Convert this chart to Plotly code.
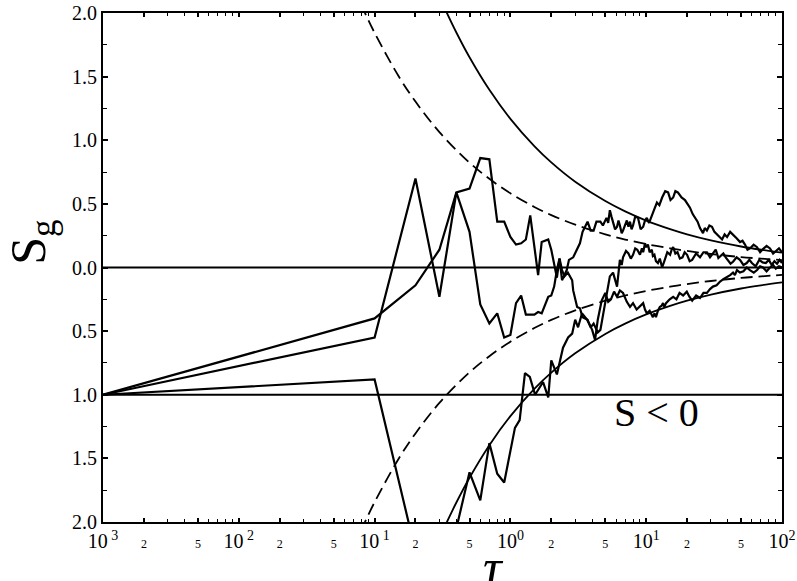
import plotly.graph_objects as go

# ---- data ----
tau_a = [0.001, 0.1, 0.2, 0.3, 0.4, 0.5, 0.6, 0.7, 0.8, 0.9, 1.0, 1.1, 1.2, 1.3, 1.4, 1.6, 1.7, 1.9, 2.0, 2.1,
         2.2, 2.3, 2.4, 2.6, 2.7, 2.9, 3.1, 3.25, 3.4, 3.7, 3.9, 4.1, 4.3, 4.6, 4.8,
         5.1, 5.25, 5.4, 5.55, 5.7, 5.9, 6.1, 6.25, 6.4, 6.6, 6.75, 7.0, 7.2, 7.4, 7.6, 7.8, 8.0, 8.3, 8.7, 9.1,
         9.5, 9.8, 10.1, 10.5, 11.0, 11.5, 12.0, 12.5, 13.1, 13.8, 14.5, 15.1, 15.8, 16.4, 17.1, 18.2, 19.3, 20.1,
         21.0, 22.0, 22.9, 23.9, 24.9, 25.5, 26.2, 27.0, 28.0, 29.2, 30.5, 31.8, 33.2, 34.7, 36.2, 37.8, 39.4,
         41.5, 43.6, 46.3, 49.1, 51.2, 53.4, 55.7, 58.1, 61.8, 65.5, 69.0, 72.4, 77.0, 81.6, 86.0, 90.3, 95.0, 100]
s_a = [-1.0, -0.40, -0.14, 0.14, 0.59, 0.62, 0.86, 0.85, 0.36, 0.36, 0.24, 0.18, 0.19, 0.22, 0.41, -0.06, 0.20,
       0.22, 0.14, 0.02, -0.08, 0.07, -0.10, -0.02, 0.06, 0.08, 0.14, 0.19, 0.28, 0.36, 0.29, 0.29, 0.36, 0.36,
       0.33,
       0.39, 0.35, 0.45, 0.40, 0.36, 0.30, 0.32, 0.37, 0.33, 0.27, 0.29, 0.34, 0.37, 0.32, 0.36, 0.30, 0.33, 0.40,
       0.39, 0.30, 0.32, 0.37, 0.39, 0.35, 0.40, 0.46, 0.51, 0.49, 0.55, 0.60, 0.59, 0.53, 0.55, 0.60, 0.59, 0.55,
       0.53, 0.50, 0.47, 0.42, 0.39, 0.36, 0.31, 0.29, 0.27, 0.31, 0.29, 0.33, 0.32, 0.28, 0.26, 0.24, 0.22,
       0.26, 0.24, 0.28, 0.26, 0.23, 0.20, 0.21, 0.18, 0.14, 0.15, 0.18, 0.16, 0.12, 0.145, 0.17, 0.15, 0.11,
       0.13, 0.15, 0.12]

tau_b = [0.001, 0.1, 0.2, 0.3, 0.4, 0.5, 0.6, 0.7, 0.8, 0.9, 1.0, 1.1, 1.2, 1.3, 1.5, 1.6, 1.7, 1.9, 2.0, 2.1,
         2.2, 2.3, 2.4, 2.5, 2.65, 2.85, 2.9, 3.1, 3.25, 3.4, 3.7, 3.9, 4.1, 4.4, 4.6, 5.1, 5.4, 5.7, 6.1,
         6.4, 6.6, 6.75, 7.1, 7.4, 7.7, 8.0, 8.3, 8.6, 9.0, 9.3, 9.5, 9.8, 10.0, 10.3, 10.6, 11.0, 11.2, 11.5,
         11.8, 12.2, 12.6, 13.1, 13.4, 13.7, 14.3, 15.0, 15.4, 15.8, 16.4, 17.0, 17.7, 18.5, 19.2, 20.0, 20.9,
         21.8, 23.3, 24.9, 26.4, 28.0, 29.5, 31.0, 32.5, 34.0, 35.5, 37.0, 38.5, 40.0, 41.8, 43.6, 46.3, 49.0,
         52.0, 55.0, 57.5, 60.0, 64.0, 68.0, 72.0, 76.0, 80.0, 84.0, 88.0, 92.0, 96.0, 100]
s_b = [-1.0, -0.55, 0.70, -0.23, 0.59, 0.28, -0.29, -0.44, -0.36, -0.55, -0.53, -0.28, -0.22, -0.37, -0.37,
       -0.35, -0.36, -0.23, -0.22, -0.15, -0.02, 0.07, -0.02, -0.07, -0.04, -0.10, -0.18, -0.31, -0.32, -0.39,
       -0.41, -0.47, -0.44, -0.51, -0.49, -0.20, -0.07, -0.04, -0.15,
       0.06, 0.02, 0.08, 0.13, 0.11, 0.07, 0.10, 0.15, 0.14, 0.10, 0.15, 0.12, 0.19, 0.16, 0.18, 0.12, 0.14,
       0.09, 0.10, 0.05, 0.035, 0.07, 0.0, 0.04, 0.06, 0.12, 0.10, 0.14, 0.16, 0.11, 0.12, 0.07, 0.08, 0.12,
       0.10, 0.05, 0.06, 0.11, 0.08, 0.12, 0.12, 0.08, 0.11, 0.14, 0.075, 0.09, 0.11, 0.08, 0.06, 0.03, 0.045,
       0.08, 0.06, 0.02, 0.035, 0.06, 0.035, 0.01, 0.06, 0.04, 0.035, 0.06, 0.02, 0.05, 0.03, 0.06, 0.035]

tau_c = [0.001, 0.1, 0.2, 0.3, 0.4, 0.5, 0.6, 0.7, 0.8, 0.9, 1.08, 1.17, 1.28, 1.39, 1.52, 1.74, 1.9, 2.0, 2.2,
         2.3, 2.44, 2.66, 2.85, 3.0, 3.15, 3.37, 3.67, 4.0, 4.2, 4.4, 4.7,
         5.0, 5.25, 5.5, 5.8, 6.1, 6.4, 6.75, 7.2, 7.6, 8.0, 8.5, 9.0, 9.5, 9.8, 10.1, 10.6, 11.2, 11.5, 11.8,
         12.2, 12.6, 13.0, 13.3, 13.6, 14.0, 14.9, 15.8, 16.7, 17.6, 18.7, 19.9, 20.8, 21.8, 23.3, 24.9, 26.4,
         28.0, 29.5, 31.0, 33.0, 35.0, 37.2, 39.4, 41.5, 43.6, 45.0, 46.6, 49.0, 52.0, 55.0, 58.0, 62.0, 65.5,
         69.0, 72.4, 77.0, 81.6, 86.0, 90.0, 95.0, 100]
s_c = [-1.0, -0.88, -2.23, -2.6, -2.05, -1.61, -1.83, -1.38, -1.62, -1.69, -1.26, -1.2, -0.83, -0.86, -1.0,
       -0.9, -1.02, -0.73, -0.84, -0.74, -0.63, -0.55, -0.52, -0.41, -0.47, -0.36, -0.41, -0.49, -0.57, -0.41,
       -0.26,
       -0.20, -0.27, -0.25, -0.19, -0.23, -0.18, -0.20, -0.27, -0.31, -0.28, -0.33, -0.30, -0.28, -0.33, -0.36,
       -0.34, -0.39, -0.36, -0.39, -0.34, -0.31, -0.30, -0.28, -0.31, -0.28, -0.25, -0.23, -0.25, -0.20, -0.22,
       -0.19, -0.23, -0.26, -0.22, -0.24, -0.20, -0.20, -0.17, -0.15, -0.14, -0.11, -0.09, -0.075, -0.06, -0.04,
       -0.06, -0.02, -0.04, -0.03, 0.0, -0.02, -0.04, -0.02, 0.01, 0.0, -0.03, 0.0, 0.02, -0.01, 0.01, 0.0]

tau_dash = [0.07, 0.085, 0.1, 0.15, 0.2, 0.3, 0.5, 0.7, 1, 1.5, 2, 3, 5, 7, 10, 15, 20, 30, 50, 70, 100]
s_dash_up = [2.2, 2.0, 1.844, 1.505, 1.304, 1.064, 0.824, 0.697, 0.583, 0.476, 0.412, 0.337, 0.261, 0.220,
             0.184, 0.151, 0.130, 0.106, 0.082, 0.070, 0.058]
s_dash_lo = [-2.2, -2.0, -1.844, -1.505, -1.304, -1.064, -0.824, -0.697, -0.583, -0.476, -0.412, -0.337,
             -0.261, -0.220, -0.184, -0.151, -0.130, -0.106, -0.082, -0.070, -0.058]

tau_solid = [0.3, 0.341, 0.4, 0.5, 0.7, 1, 1.5, 2, 3, 5, 7, 10, 15, 20, 30, 50, 70, 100]
s_solid_up = [2.13, 2.0, 1.847, 1.652, 1.396, 1.168, 0.954, 0.826, 0.674, 0.522, 0.441, 0.369, 0.302, 0.261,
              0.213, 0.165, 0.140, 0.117]
s_solid_lo = [-2.13, -2.0, -1.847, -1.652, -1.396, -1.168, -0.954, -0.826, -0.674, -0.522, -0.441, -0.369,
              -0.302, -0.261, -0.213, -0.165, -0.140, -0.117]

tau_ref = [0.001, 100]
s_ref_zero = [0.0, 0.0]
s_ref_minus1 = [-1.0, -1.0]

x_tickvals = [0.001, 0.002, 0.005, 0.01, 0.02, 0.05, 0.1, 0.2, 0.5, 1, 2, 5, 10, 20, 50, 100]
x_ticktext = ["10<sup>&nbsp;3</sup>", "2", "5", "10<sup>&nbsp;2</sup>", "2", "5", "10<sup>&nbsp;1</sup>", "2", "5",
              "10<sup>0</sup>", "2", "5", "10<sup>1</sup>", "2", "5", "10<sup>2</sup>"]
y_tickvals = [-2.0, -1.5, -1.0, -0.5, 0.0, 0.5, 1.0, 1.5, 2.0]
y_ticktext = ["2.0", "1.5", "1.0", "0.5", "0.0", "0.5", "1.0", "1.5", "2.0"]

# ---- figure ----
FONT = "Liberation Serif"
small = "<span style='font-size:12px'>%s</span>"
x_ticktext_fmt = [t if t.startswith("10") else small % t for t in x_ticktext]

x_minor = [m * d for d in [0.001, 0.01, 0.1, 1, 10] for m in range(2, 10)]
y_minor = [-1.75, -1.25, -0.75, -0.25, 0.25, 0.75, 1.25, 1.75]

fig = go.Figure()
line_k = dict(color="black", width=1.8)

fig.add_trace(go.Scatter(x=tau_ref, y=s_ref_zero, mode="lines", line=line_k))
fig.add_trace(go.Scatter(x=tau_ref, y=s_ref_minus1, mode="lines", line=line_k))
fig.add_trace(go.Scatter(x=tau_dash, y=s_dash_up, mode="lines",
                         line=dict(color="black", width=1.8, dash="12px,6px", shape="spline")))
fig.add_trace(go.Scatter(x=tau_dash, y=s_dash_lo, mode="lines",
                         line=dict(color="black", width=1.8, dash="12px,6px", shape="spline")))
fig.add_trace(go.Scatter(x=tau_solid, y=s_solid_up, mode="lines",
                         line=dict(color="black", width=1.8, shape="spline")))
fig.add_trace(go.Scatter(x=tau_solid, y=s_solid_lo, mode="lines",
                         line=dict(color="black", width=1.8, shape="spline")))
for tx, sy in [(tau_a, s_a), (tau_b, s_b), (tau_c, s_c)]:
    fig.add_trace(go.Scatter(x=tx, y=sy, mode="lines", line=dict(color="black", width=2.2)))

fig.update_layout(
    width=797, height=581,
    margin=dict(l=103, r=15, t=13, b=59, autoexpand=False),
    paper_bgcolor="white", plot_bgcolor="white",
    showlegend=False,
    font=dict(family=FONT, size=19, color="black"),
)
fig.update_xaxes(
    type="log", range=[-3, 2], automargin=False,
    showline=True, linecolor="black", linewidth=2, mirror="ticks",
    showgrid=False, zeroline=False,
    ticks="inside", ticklen=4, tickwidth=1.5, tickcolor="black",
    tickmode="array", tickvals=x_tickvals, ticktext=x_ticktext_fmt,
    tickfont=dict(family=FONT, size=20, color="black"),
    minor=dict(ticks="inside", ticklen=3, tickwidth=1.2, tickcolor="black", tickvals=x_minor, showgrid=False),
)
fig.update_yaxes(
    range=[-2, 2], automargin=False,
    showline=True, linecolor="black", linewidth=2, mirror="ticks",
    showgrid=False, zeroline=False,
    ticks="inside", ticklen=5, tickwidth=1.5, tickcolor="black",
    tickmode="array", tickvals=y_tickvals, ticktext=y_ticktext,
    tickfont=dict(family=FONT, size=20, color="black"),
    minor=dict(ticks="inside", ticklen=4, tickwidth=1.2, tickcolor="black", tickvals=y_minor, showgrid=False),
)

fig.add_annotation(text="S<sub>g</sub>", textangle=-90, showarrow=False,
                   xref="paper", yref="paper", x=-0.105, y=0.55,
                   xanchor="center", yanchor="middle",
                   font=dict(family=FONT, size=50, color="black"))
fig.add_annotation(text="<i>τ</i>", showarrow=False,
                   xref="paper", yref="paper", x=0.575, y=-0.03,
                   xanchor="center", yanchor="top",
                   font=dict(family=FONT, size=52, color="black"))
fig.add_annotation(text="S &lt; 0", showarrow=False,
                   xref="paper", yref="paper", x=0.815, y=0.215,
                   xanchor="center", yanchor="middle",
                   font=dict(family=FONT, size=40, color="black"))

fig.write_html("out.html")
